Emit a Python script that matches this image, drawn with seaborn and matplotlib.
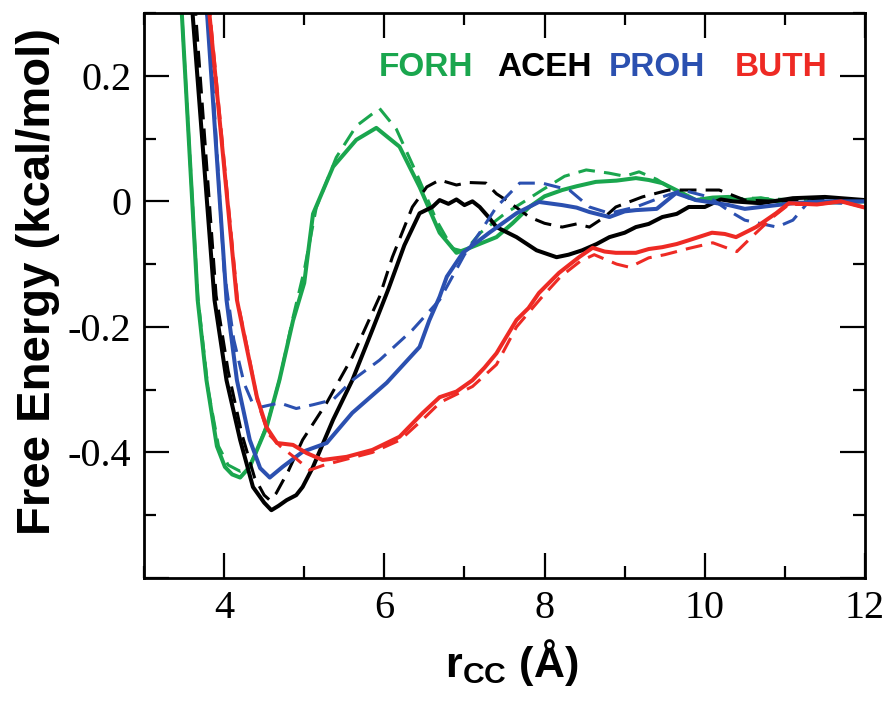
import numpy as np
import pandas as pd
import matplotlib
matplotlib.use("Agg")
import matplotlib.pyplot as plt
from matplotlib.ticker import MultipleLocator, FuncFormatter
import seaborn as sns

# Potential of mean force between terminal carbons, four alcohols
# solid = full model, dashed = reduced model

forh_r_solid = [3.45, 3.67, 3.78, 3.91, 4.01, 4.10, 4.20, 4.32, 4.53, 4.69, 4.86, 5.00, 5.11,
                5.36, 5.65, 5.90, 6.19, 6.44, 6.69, 6.90, 7.05, 7.40, 7.60, 7.81, 8.00, 8.22,
                8.40, 8.64, 8.90, 9.14, 9.30, 9.47, 9.72, 9.89, 10.1, 10.3, 10.5, 10.7,
                10.9, 11.26, 12.0]
forh_g_solid = [0.35, -0.157, -0.285, -0.39, -0.423, -0.435, -0.44, -0.423, -0.36, -0.285,
                -0.19, -0.13, -0.02, 0.055, 0.098, 0.117, 0.087, 0.023, -0.05, -0.082, -0.075,
                -0.057, -0.035, -0.009, 0.008, 0.018, 0.024, 0.031, 0.033, 0.037, 0.034,
                0.029, 0.013, 0.002, 0.006, 0.007, 0.002, 0.005, 0.0, -0.003, 0.0]
forh_r_dash = [3.45, 3.67, 3.80, 3.93, 4.05, 4.20, 4.30, 4.40, 4.55, 4.70, 4.86, 5.00, 5.15,
               5.40, 5.65, 5.94, 6.15, 6.40, 6.65, 6.85, 7.00, 7.20, 7.50, 7.75, 7.97, 8.25,
               8.52, 8.80, 9.00, 9.18, 9.40, 9.55, 9.80, 10.2, 10.6, 11.0, 11.5, 12.0]
forh_g_dash = [0.35, -0.15, -0.30, -0.39, -0.42, -0.43, -0.425, -0.40, -0.35, -0.28, -0.185,
               -0.11, -0.01, 0.07, 0.12, 0.148, 0.115, 0.045, -0.03, -0.075, -0.08, -0.05,
               -0.02, 0.0, 0.018, 0.04, 0.05, 0.045, 0.04, 0.047, 0.035, 0.023, 0.005, 0.002,
               0.005, 0.003, 0.0, 0.0]

aceh_r_solid = [3.58, 3.61, 3.88, 4.03, 4.20, 4.36, 4.50, 4.59, 4.68, 4.78, 4.90, 4.98, 5.11,
                5.36, 5.60, 5.85, 6.05, 6.25, 6.44, 6.60, 6.69, 6.80, 6.90, 7.00, 7.10, 7.19,
                7.30, 7.40, 7.65, 7.90, 8.15, 8.30, 8.47, 8.65, 8.81, 9.00, 9.14, 9.30, 9.47,
                9.65, 9.80, 10.0, 10.2, 10.35, 10.7, 11.1, 11.5, 12.0]
aceh_g_solid = [0.35, 0.293, -0.157, -0.285, -0.38, -0.455, -0.48, -0.492, -0.485, -0.476,
                -0.468, -0.455, -0.423, -0.348, -0.285, -0.205, -0.14, -0.07, -0.019, -0.009,
                0.002, -0.004, 0.003, -0.006, 0.0, -0.009, -0.025, -0.041, -0.057, -0.078,
                -0.089, -0.085, -0.078, -0.068, -0.057, -0.05, -0.041, -0.036, -0.025, -0.02,
                -0.009, -0.009, 0.003, 0.0, -0.003, 0.005, 0.007, 0.002]
aceh_r_dash = [3.62, 3.65, 3.90, 4.05, 4.22, 4.38, 4.50, 4.57, 4.65, 4.80, 4.98, 5.28, 5.60,
               5.94, 6.10, 6.35, 6.53, 6.69, 6.90, 7.05, 7.27, 7.40, 7.52, 7.65, 7.81, 8.00,
               8.22, 8.40, 8.56, 8.75, 8.89, 9.22, 9.55, 9.89, 10.18, 10.5, 10.9, 11.3,
               11.7, 12.0]
aceh_g_dash = [0.35, 0.29, -0.15, -0.27, -0.37, -0.44, -0.468, -0.476, -0.465, -0.43, -0.38,
               -0.321, -0.248, -0.152, -0.089, -0.009, 0.023, 0.034, 0.026, 0.03, 0.029,
               0.012, 0.002, -0.01, -0.025, -0.035, -0.041, -0.036, -0.041, -0.025, -0.009,
               0.007, 0.018, 0.018, 0.018, 0.002, 0.0, 0.003, 0.0, 0.0]

proh_r_solid = [3.74, 3.79, 4.03, 4.16, 4.32, 4.45, 4.57, 4.73, 4.98, 5.28, 5.60, 6.03, 6.44,
                6.56, 6.69, 6.78, 6.98, 7.31, 7.65, 7.93, 8.22, 8.40, 8.56, 8.81, 9.00, 9.14,
                9.40, 9.64, 9.89, 10.1, 10.3, 10.5, 10.7, 10.9, 11.1, 11.5, 12.0]
proh_g_solid = [0.35, 0.294, -0.157, -0.285, -0.38, -0.425, -0.44, -0.423, -0.399, -0.385,
                -0.337, -0.289, -0.232, -0.19, -0.152, -0.12, -0.082, -0.05, -0.019, -0.001,
                -0.006, -0.01, -0.017, -0.025, -0.016, -0.014, -0.012, 0.013, 0.002, -0.002,
                -0.006, -0.012, -0.009, -0.006, -0.003, 0.0, 0.0]
proh_r_dash = [3.76, 3.81, 4.00, 4.12, 4.25, 4.35, 4.45, 4.69, 4.90, 5.11, 5.36, 5.60, 5.94,
               6.35, 6.69, 6.85, 7.00, 7.19, 7.40, 7.69, 7.97, 8.31, 8.56, 8.81, 9.14, 9.47,
               9.72, 10.05, 10.3, 10.5, 10.9, 11.1, 11.3, 11.7, 12.0]
proh_g_dash = [0.35, 0.29, -0.11, -0.22, -0.29, -0.32, -0.328, -0.321, -0.33, -0.324, -0.316,
               -0.285, -0.253, -0.205, -0.157, -0.12, -0.085, -0.05, -0.009, 0.029, 0.029,
               0.018, -0.009, -0.019, -0.009, 0.007, 0.018, 0.007, -0.015, -0.03, -0.041,
               -0.03, 0.0, -0.003, 0.0]

buth_r_solid = [3.79, 3.82, 4.16, 4.28, 4.41, 4.53, 4.66, 4.86, 5.03, 5.23, 5.53, 5.85, 6.19,
                6.48, 6.69, 6.90, 7.10, 7.25, 7.40, 7.65, 7.80, 7.93, 8.18, 8.43, 8.60, 8.75,
                8.89, 9.14, 9.30, 9.47, 9.65, 9.80, 10.09, 10.25, 10.39, 10.64, 10.89, 11.05,
                11.4, 11.7, 12.0]
buth_g_solid = [0.35, 0.294, -0.157, -0.232, -0.312, -0.36, -0.385, -0.388, -0.401, -0.412,
                -0.407, -0.396, -0.375, -0.337, -0.312, -0.303, -0.285, -0.265, -0.242,
                -0.189, -0.170, -0.146, -0.114, -0.089, -0.074, -0.080, -0.082, -0.082,
                -0.076, -0.073, -0.068, -0.062, -0.05, -0.052, -0.057, -0.041, -0.019,
                -0.003, -0.005, 0.0, -0.01]
buth_r_dash = [3.80, 3.83, 4.17, 4.30, 4.42, 4.55, 4.70, 4.90, 5.07, 5.25, 5.55, 5.85, 6.20,
               6.50, 6.70, 7.10, 7.40, 7.65, 7.95, 8.20, 8.45, 8.62, 8.90, 9.06, 9.30, 9.50,
               9.80, 10.1, 10.4, 10.6, 10.85, 11.05, 11.4, 11.7, 12.0]
buth_g_dash = [0.35, 0.29, -0.16, -0.24, -0.32, -0.37, -0.39, -0.41, -0.428, -0.42, -0.41,
               -0.40, -0.38, -0.345, -0.32, -0.295, -0.26, -0.20, -0.155, -0.12, -0.095,
               -0.085, -0.10, -0.105, -0.09, -0.085, -0.075, -0.066, -0.08, -0.055, -0.025,
               -0.005, -0.005, 0.0, -0.01]

names = ["FORH", "ACEH", "PROH", "BUTH"]
colors = {"FORH": "#1aa64e", "ACEH": "#000000", "PROH": "#2b50b0", "BUTH": "#ee2a24"}
curves = {
    "FORH": ((forh_r_solid, forh_g_solid), (forh_r_dash, forh_g_dash)),
    "ACEH": ((aceh_r_solid, aceh_g_solid), (aceh_r_dash, aceh_g_dash)),
    "PROH": ((proh_r_solid, proh_g_solid), (proh_r_dash, proh_g_dash)),
    "BUTH": ((buth_r_solid, buth_g_solid), (buth_r_dash, buth_g_dash)),
}

sns.set_style("ticks")
plt.rcParams["font.family"] = ["Liberation Sans", "DejaVu Sans"]
plt.rcParams["mathtext.fontset"] = "custom"
plt.rcParams["mathtext.bf"] = "Liberation Sans:bold"
plt.rcParams["mathtext.rm"] = "Liberation Sans:bold"
plt.rcParams["axes.unicode_minus"] = False
for key in ["text.color", "axes.labelcolor", "xtick.color", "ytick.color", "axes.edgecolor"]:
    plt.rcParams[key] = "black"

fig = plt.figure(figsize=(8.92, 7.02), dpi=100)
ax = fig.add_axes([144 / 892, 1 - 578 / 702, 721 / 892, 565 / 702])

for name in names:
    (rs, gs), (rd, gd) = curves[name]
    df_s = pd.DataFrame({"r": rs, "G": gs})
    df_d = pd.DataFrame({"r": rd, "G": gd})
    sns.lineplot(data=df_d, x="r", y="G", ax=ax, color=colors[name], lw=2.2,
                 linestyle=(0, (5.5, 3.0)), sort=False, estimator=None)
    sns.lineplot(data=df_s, x="r", y="G", ax=ax, color=colors[name], lw=2.9,
                 sort=False, estimator=None)

ax.set_xlim(3, 12)
ax.set_ylim(-0.6, 0.3)
ax.xaxis.set_major_locator(MultipleLocator(2))
ax.xaxis.set_minor_locator(MultipleLocator(1))
ax.yaxis.set_major_locator(MultipleLocator(0.2))
ax.yaxis.set_minor_locator(MultipleLocator(0.1))
ax.yaxis.set_major_formatter(
    FuncFormatter(lambda v, p: "" if v < -0.55 else "%g" % round(v, 3)))
ax.xaxis.set_major_formatter(FuncFormatter(lambda v, p: "%g" % v))

for s in ax.spines.values():
    s.set_linewidth(2.0)
    s.set_color("black")
ax.tick_params(which="both", direction="in", top=True, right=True, color="black",
               labelcolor="black")
ax.tick_params(which="major", length=18, width=1.6, pad=9, labelsize=29)
ax.tick_params(which="minor", length=8.5, width=1.6)
for lab in ax.get_xticklabels() + ax.get_yticklabels():
    lab.set_fontfamily("Liberation Serif")

ax.set_ylabel("Free Energy (kcal/mol)", fontsize=34, fontweight="bold", color="black")
ax.yaxis.set_label_coords(-0.1165, 0.524)
ax.set_xlabel(r"$\mathbf{r}_{\mathbf{CC}}$ (Å)", fontsize=31, fontweight="bold",
              color="black")
ax.xaxis.set_label_coords(0.51, -0.105)

label_x = {"FORH": 0.326, "ACEH": 0.490, "PROH": 0.644, "BUTH": 0.820}
for name in names:
    ax.text(label_x[name], 0.903, name, transform=ax.transAxes, color=colors[name],
            fontsize=24, fontweight="bold", ha="left", va="center")

fig.savefig("out.png", dpi=100)
